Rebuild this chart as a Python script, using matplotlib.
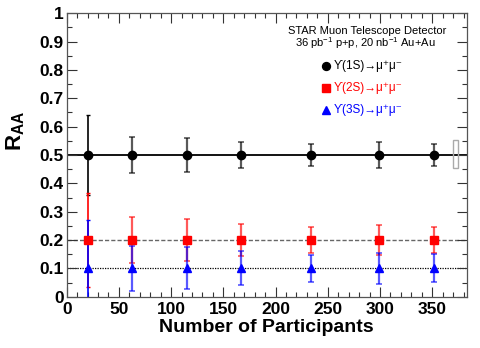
import matplotlib
matplotlib.use("Agg")
import matplotlib.pyplot as plt
from matplotlib.patches import Rectangle
from matplotlib.ticker import MultipleLocator
import numpy as np

plt.rcParams['font.family'] = ['Liberation Sans', 'DejaVu Sans']
plt.rcParams['mathtext.fontset'] = 'custom'
plt.rcParams['mathtext.rm'] = 'Liberation Sans'
plt.rcParams['mathtext.it'] = 'Liberation Sans:italic'
plt.rcParams['mathtext.bf'] = 'Liberation Sans:bold'

# Data
npart = [20, 63, 115, 167, 234, 299, 352]
raa_1s = [0.5, 0.5, 0.5, 0.5, 0.5, 0.5, 0.5]
err_1s = [0.14, 0.065, 0.06, 0.047, 0.038, 0.045, 0.04]
raa_2s = [0.2, 0.2, 0.2, 0.2, 0.2, 0.2, 0.2]
err_2s = [0.165, 0.08, 0.073, 0.058, 0.045, 0.053, 0.047]
raa_3s = [0.1, 0.1, 0.1, 0.1, 0.1, 0.1, 0.1]
err_3s = [0.17, 0.08, 0.074, 0.06, 0.048, 0.055, 0.049]
global_sys_lo = 0.453
global_sys_hi = 0.554
ref_lines = [0.5, 0.2, 0.1]
labels = ["\u03d2(1S)\u2192\u03bc\u207a\u03bc\u207b",
          "\u03d2(2S)\u2192\u03bc\u207a\u03bc\u207b",
          "\u03d2(3S)\u2192\u03bc\u207a\u03bc\u207b"]

W, H = 481, 348
fig = plt.figure(figsize=(W/100, H/100), dpi=100)
l, r, t, b = 66.7, 466.7, 13.3, 296.7
ax = fig.add_axes([l/W, 1-b/H, (r-l)/W, (b-t)/H])
ax.set_xlim(0, 383)
ax.set_ylim(0, 1)

ax.axhline(ref_lines[0], color='black', lw=1.3, zorder=1)
ax.axhline(ref_lines[1], color='#666666', lw=1.0, ls=(0, (3, 1.5)), zorder=1)
ax.axhline(ref_lines[2], color='black', lw=0.9, ls=(0, (1, 1)), zorder=1)

series = [(raa_1s, err_1s, 'black', 'o', 6),
          (raa_2s, err_2s, 'red', 's', 5.5),
          (raa_3s, err_3s, 'blue', '^', 5.5)]
for vals, errs, col, mk, ms in series:
    ax.errorbar(npart[:1], vals[:1], yerr=errs[:1], fmt='none', ecolor=col,
                elinewidth=1.2, capsize=1.5, zorder=2)
    ax.errorbar(npart[1:], vals[1:], yerr=errs[1:], fmt='none', ecolor=col,
                elinewidth=1.6, capsize=2, capthick=1.2, alpha=0.65, zorder=2)
    ax.plot(npart, vals, ls='none', marker=mk, color=col, ms=ms, zorder=3,
            clip_on=False)

ax.add_patch(Rectangle((370, global_sys_lo), 5, global_sys_hi - global_sys_lo,
                       fill=False, edgecolor='#aaaaaa', lw=1.0, zorder=2))

ax.xaxis.set_major_locator(MultipleLocator(50))
ax.xaxis.set_minor_locator(MultipleLocator(10))
ax.yaxis.set_major_locator(MultipleLocator(0.1))
ax.yaxis.set_minor_locator(MultipleLocator(0.05))
ax.tick_params(which='both', direction='in', top=True, right=True, width=0.8,
               color='#333333')
ax.tick_params(which='major', length=7)
ax.tick_params(which='minor', length=3.5)
ax.tick_params(axis='x', which='major', pad=4, labelsize=12.5)
ax.tick_params(axis='y', which='major', pad=2, labelsize=12.5)
for lab in ax.get_xticklabels() + ax.get_yticklabels():
    lab.set_fontweight('bold')
ax.set_yticks(np.round(np.arange(0, 1.01, 0.1), 1))
ax.set_yticklabels(['0'] + [f'{v:.1f}' for v in np.arange(0.1, 0.95, 0.1)] + ['1'],
                   fontweight='bold')
for s in ax.spines.values():
    s.set_color('#555555')
    s.set_linewidth(0.9)

fig.text(266.7/W, 1-328/H, 'Number of Participants', ha='center', va='center',
         fontsize=14, fontweight='bold')
fig.text(16/W, 1-131/H, r'$\mathbf{R}_{\mathbf{AA}}$', ha='center', va='center',
         fontsize=16, rotation=90)

fig.text(446/W, 1-30.5/H, 'STAR Muon Telescope Detector', ha='right',
         va='center', fontsize=8)
fig.text(436/W, 1-43.5/H, r'36 pb$^{-1}$ p+p, 20 nb$^{-1}$ Au+Au', ha='right',
         va='center', fontsize=8)
leg_y = [66, 88, 110]
for (vals, errs, col, mk, ms), lab, yy in zip(series, labels, leg_y):
    fig.lines.append(plt.Line2D([326/W], [1-yy/H], marker=mk, color=col,
                                ms=ms*0.95, ls='none', transform=fig.transFigure))
    fig.text(334/W, 1-yy/H, lab, ha='left', va='center', fontsize=8.5, color=col)

fig.savefig('out.png', dpi=100)
